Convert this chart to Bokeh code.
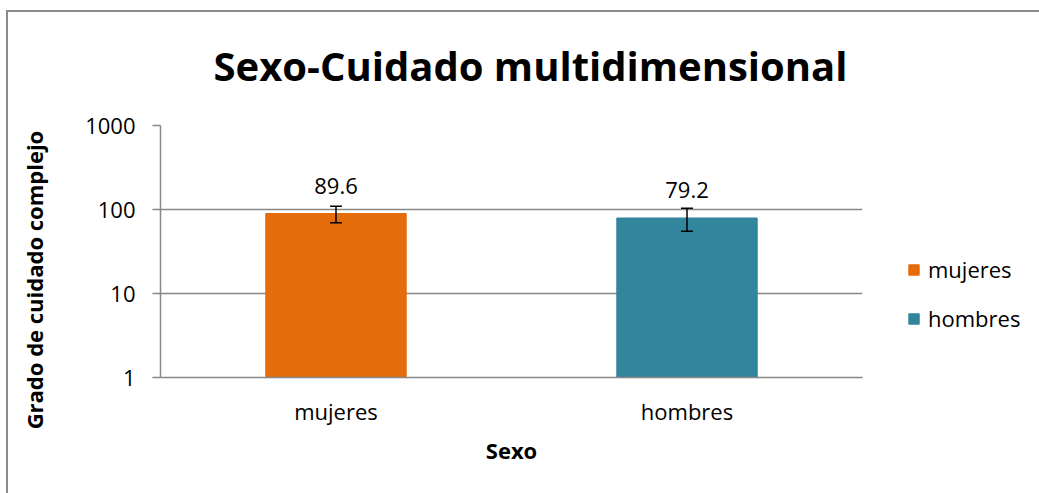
from bokeh.plotting import figure
from bokeh.models import (ColumnDataSource, Whisker, TeeHead, LabelSet,
                          Legend, LegendItem, FixedTicker)
from bokeh.core.properties import value
from bokeh.embed import file_html
from bokeh.resources import INLINE

# ---- data ----
categories = ["mujeres", "hombres"]
values = [89.6, 79.2]
errors = [20.0, 24.0]
colors = ["#E46C0A", "#31859C"]
value_labels = ["89.6", "79.2"]
y_ticks = [1, 10, 100, 1000]
y_tick_labels = ["1", "10", "100", "1000"]
title_text = "Sexo-Cuidado multidimensional"
x_title = "Sexo"
y_title = "Grado de cuidado complejo"

FONT = "Open Sans"
GRAY = "#878787"

src = ColumnDataSource(dict(
    cat=categories,
    val=values,
    bottom=[1] * len(values),
    upper=[v + e for v, e in zip(values, errors)],
    lower=[v - e for v, e in zip(values, errors)],
    color=colors,
    lbl=value_labels,
))

p = figure(x_range=categories, y_axis_type="log", y_range=(1, 1000),
           frame_width=702, frame_height=252,
           min_border_left=160, min_border_right=177,
           min_border_top=125, min_border_bottom=116,
           output_backend="svg", toolbar_location=None)
# chart-area border (only its top and left edges are in view)
p.styles = {
    "background": ("linear-gradient(#8c8c8c,#8c8c8c) 6px 10px / 2px 100% no-repeat, "
                   "linear-gradient(#8c8c8c,#8c8c8c) 6px 10px / 100% 2px no-repeat, white"),
}
p.outline_line_color = None
p.background_fill_color = "white"
p.border_fill_alpha = 0

r = p.vbar(x="cat", top="val", bottom="bottom", width=0.4, color="color", source=src)

w = Whisker(base="cat", upper="upper", lower="lower", source=src, level="annotation",
            line_color="black", line_width=1.5,
            upper_head=TeeHead(size=12, line_color="black", line_width=1.5),
            lower_head=TeeHead(size=12, line_color="black", line_width=1.5))
p.add_layout(w)

labels = LabelSet(x="cat", y="val", text="lbl", source=src, y_offset=28,
                  text_align="center", text_baseline="middle",
                  text_font=value(FONT), text_font_size="22px", text_color="black")
p.add_layout(labels)

# title
p.title.text = title_text
p.title.align = "left"
p.title.offset = 53
p.title.standoff = 66
p.title.text_font = FONT
p.title.text_font_style = "bold"
p.title.text_font_size = "40px"
p.title.text_color = "black"

# axes
p.xgrid.grid_line_color = None
p.ygrid.grid_line_color = GRAY
p.ygrid.grid_line_width = 1.5
p.ygrid.minor_grid_line_color = None
p.yaxis.ticker = FixedTicker(ticks=y_ticks, minor_ticks=[])
p.yaxis.major_label_overrides = {t: l for t, l in zip(y_ticks, y_tick_labels)}
p.yaxis.axis_line_color = GRAY
p.yaxis.axis_line_width = 1.5
p.yaxis.major_tick_line_color = GRAY
p.yaxis.major_tick_line_width = 1.5
p.yaxis.major_tick_out = 8
p.yaxis.major_tick_in = 0
p.yaxis.minor_tick_line_color = None
p.yaxis.major_label_standoff = 17
p.yaxis.major_label_text_font = FONT
p.yaxis.major_label_text_font_size = "22px"
p.yaxis.major_label_text_color = "black"
p.yaxis.axis_label = y_title + "\u00a0" * 10
p.yaxis.axis_label_text_font = FONT
p.yaxis.axis_label_text_font_style = "bold"
p.yaxis.axis_label_text_font_size = "22px"
p.yaxis.axis_label_text_color = "black"
p.yaxis.axis_label_standoff = 33

p.xaxis.axis_line_color = GRAY
p.xaxis.axis_line_width = 1.5
p.xaxis.major_tick_line_color = None
p.xaxis.minor_tick_line_color = None
p.xaxis.major_label_standoff = 12
p.xaxis.major_label_text_font = FONT
p.xaxis.major_label_text_font_size = "22px"
p.xaxis.major_label_text_color = "black"
p.xaxis.axis_label = x_title
p.xaxis.axis_label_text_font = FONT
p.xaxis.axis_label_text_font_style = "bold"
p.xaxis.axis_label_text_font_size = "22px"
p.xaxis.axis_label_text_color = "black"
p.xaxis.axis_label_standoff = 6

legend = Legend(items=[LegendItem(label=categories[i], renderers=[r], index=i)
                       for i in range(len(categories))],
                location=(45, 44), padding=0, margin=0, spacing=19,
                glyph_width=13, glyph_height=13, label_height=24,
                label_standoff=8,
                label_text_font=FONT, label_text_font_size="22px",
                label_text_color="black",
                border_line_color=None, background_fill_alpha=0)
p.add_layout(legend, "right")

html = file_html(p, INLINE)
html = html.replace("<head>", "<head><style>html,body{overflow:hidden;}</style>", 1)
open("out.html", "w").write(html)
